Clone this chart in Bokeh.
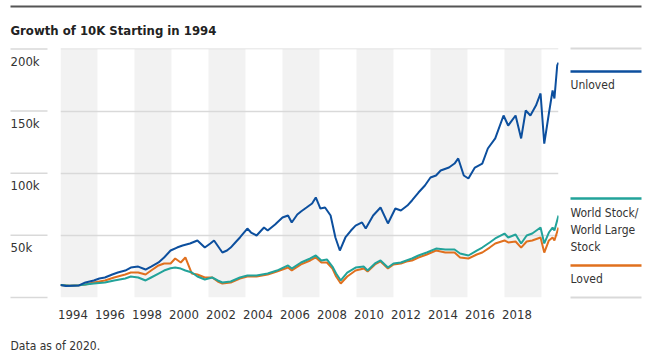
from bokeh.plotting import figure
from bokeh.models import FixedTicker, CustomJSTickFormatter, Range1d
from bokeh.core.properties import value
from bokeh.embed import file_html
from bokeh.resources import INLINE

# ---------------- data (values in thousands of dollars) ----------------
unloved_t = [1994.0, 1994.3, 1994.6, 1995.0, 1995.35, 1995.8, 1996.1, 1996.4, 1996.8, 1997.1,
             1997.5, 1997.8, 1998.2, 1998.6, 1998.9, 1999.3, 1999.6, 1999.95, 2000.3, 2000.6,
             2001.0, 2001.4, 2001.8, 2002.1, 2002.3, 2002.6, 2002.75, 2003.0, 2003.2, 2003.45,
             2003.7, 2004.1, 2004.3, 2004.6, 2005.0, 2005.2, 2005.6, 2006.0, 2006.3, 2006.5,
             2006.8, 2007.0, 2007.3, 2007.6, 2007.8, 2008.05, 2008.3, 2008.6, 2008.86, 2009.1,
             2009.4, 2009.7, 2009.95, 2010.3, 2010.5, 2010.9, 2011.3, 2011.7, 2012.1, 2012.4,
             2012.75, 2013.0, 2013.35, 2013.7, 2014.0, 2014.3, 2014.55, 2015.0, 2015.3, 2015.5,
             2015.8, 2016.05, 2016.4, 2016.8, 2017.1, 2017.5, 2017.95, 2018.2, 2018.6, 2018.9,
             2019.15, 2019.4, 2019.7, 2019.95, 2020.15, 2020.4, 2020.6, 2020.7, 2020.85, 2020.92]
unloved_v = [10.0, 9.2, 9.5, 9.7, 12.1, 13.7, 15.3, 16.1, 18.5, 20.1,
             21.7, 24.1, 24.9, 22.5, 24.9, 28.2, 32.2, 37.8, 40.2, 41.8,
             43.5, 45.9, 40.2, 43.5, 45.9, 39.4, 36.2, 37.8, 40.2, 44.3,
             48.3, 55.5, 52.3, 49.9, 56.3, 53.9, 58.8, 64.4, 66.0, 60.4,
             66.8, 69.2, 72.4, 75.7, 80.5, 71.6, 72.4, 66.0, 48.3, 37.8,
             48.3, 53.9, 57.9, 60.4, 55.5, 66.0, 72.4, 59.6, 71.6, 70.0,
             74.0, 78.1, 84.5, 90.1, 96.6, 98.2, 102.2, 104.6, 107.8, 111.9,
             98.2, 95.8, 104.6, 107.8, 119.9, 128.0, 146.5, 138.4, 146.5, 128.0,
             150.5, 146.5, 154.5, 164.2, 123.9, 148.1, 166.6, 160.2, 186.7, 189.1]

wl_t = [1994.0, 1994.5, 1995.0, 1995.35, 1995.8, 1996.4, 1996.9, 1997.5, 1997.8, 1998.2,
        1998.6, 1998.9, 1999.3, 1999.6, 1999.95, 2000.2, 2000.5, 2000.75, 2001.1, 2001.4,
        2001.8, 2002.2, 2002.5, 2002.75, 2003.2, 2003.7, 2004.1, 2004.6, 2005.2, 2005.7,
        2006.3, 2006.5, 2007.0, 2007.5, 2007.8, 2008.1, 2008.4, 2008.7, 2008.9, 2009.15,
        2009.5, 2009.95, 2010.4, 2010.6, 2011.0, 2011.3, 2011.7, 2012.0, 2012.4, 2012.7,
        2013.0, 2013.35, 2013.8, 2014.3, 2014.8, 2015.3, 2015.6, 2016.05, 2016.5, 2016.8,
        2017.2, 2017.5, 2018.0, 2018.2, 2018.6, 2018.9, 2019.2, 2019.5, 2019.95, 2020.15,
        2020.4, 2020.6, 2020.7, 2020.92]
world_v = [10.0, 9.4, 9.8, 10.5, 11.3, 12.1, 13.7, 15.3, 16.9, 16.1,
           13.7, 16.1, 19.3, 21.7, 23.5, 24.1, 23.3, 21.7, 20.1, 16.9,
           14.5, 16.1, 13.7, 12.1, 12.9, 16.1, 17.7, 17.7, 19.3, 21.7,
           25.8, 23.3, 28.2, 31.4, 33.8, 29.8, 30.6, 24.9, 19.3, 13.7,
           20.1, 24.1, 24.9, 21.7, 27.4, 29.8, 24.1, 27.4, 28.2, 29.8,
           31.4, 33.8, 36.2, 39.4, 38.6, 38.6, 35.4, 33.8, 37.8, 40.2,
           44.3, 47.5, 51.5, 48.3, 50.7, 43.5, 49.9, 51.5, 56.3, 43.5,
           52.3, 56.3, 53.9, 66.0]
loved_v = [10.0, 9.4, 9.8, 10.5, 12.1, 13.7, 16.1, 18.5, 20.1, 20.1,
           18.5, 21.7, 25.8, 27.4, 27.4, 31.4, 28.2, 32.2, 19.3, 18.5,
           16.1, 16.1, 12.9, 11.3, 12.1, 15.3, 16.9, 16.9, 18.5, 20.9,
           24.1, 21.7, 26.6, 29.8, 32.2, 28.2, 28.2, 23.3, 16.9, 11.3,
           16.9, 21.7, 23.3, 20.9, 26.6, 29.0, 23.3, 26.6, 27.4, 29.0,
           29.8, 32.2, 34.6, 37.8, 36.2, 36.2, 32.2, 31.4, 34.6, 36.2,
           40.2, 43.5, 45.9, 44.3, 45.1, 40.2, 45.1, 45.9, 48.3, 36.2,
           45.9, 48.3, 45.9, 56.3]

x_tick_years = [1994, 1996, 1998, 2000, 2002, 2004, 2006, 2008, 2010, 2012, 2014, 2016, 2018]
band_starts = [1994, 1998, 2002, 2006, 2010, 2014, 2018]
y_ticks = [0, 50, 100, 150, 200]
y_tick_labels = ["", "50k", "100k", "150k", "200k"]

series_names = ["Unloved", "World Stock/\nWorld Large\nStock", "Loved"]

title_text = "Growth of 10K Starting in 1994"
footer_text = "Data as of 2020."

# ---------------- style / layout ----------------
FONT = "DejaVu Sans Condensed, Roboto, sans-serif"
TXT = "#333333"
GRID = "#d9d9d9"
BAND = "#f2f2f2"
BLUE = "#0c4f9e"
TEAL = "#22a39a"
ORANGE = "#e0701e"

W, H = 650, 352
FL, FR, FT, FB = 60, 558, 48, 297          # frame edges in pixels
X0, X1 = 1994.0, 2020.92
Y0, Y1 = 0.0, 200.4


def dx(px):
    return X0 + (px - FL) * (X1 - X0) / (FR - FL)


def dy(py):
    return Y0 + (FB - py) * (Y1 - Y0) / (FB - FT)


p = figure(width=W, height=H, output_backend="svg", toolbar_location=None,
           x_range=Range1d(X0, X1), y_range=Range1d(Y0, Y1),
           min_border_left=FL, min_border_right=W - FR,
           min_border_top=FT, min_border_bottom=H - FB)
p.outline_line_color = None
p.background_fill_color = "white"
p.border_fill_color = "white"

# title
p.title.text = title_text
p.title.text_font = FONT
p.title.text_font_size = "13px"
p.title.text_font_style = "bold"
p.title.text_color = "#222222"
p.title.align = "left"
p.title.offset = 10 - FL
p.title.standoff = 21

# axes / grid
p.yaxis.visible = False
p.xgrid.grid_line_color = None
p.ygrid.ticker = FixedTicker(ticks=y_ticks)
p.ygrid.grid_line_color = GRID
p.ygrid.grid_line_width = 1.5

label_shift = 12.5 * (X1 - X0) / (FR - FL)
p.xaxis.ticker = FixedTicker(ticks=[yr + label_shift for yr in x_tick_years])
p.xaxis.formatter = CustomJSTickFormatter(code="return Math.floor(tick + 1e-6).toString()")
p.xaxis.axis_line_color = None
p.xaxis.major_tick_line_color = None
p.xaxis.minor_tick_line_color = None
p.xaxis.major_label_text_font = FONT
p.xaxis.major_label_text_font_size = "13px"
p.xaxis.major_label_text_color = TXT
p.xaxis.major_label_standoff = 6

# alternating bands
p.quad(left=band_starts, right=[b + 2 for b in band_starts], bottom=0, top=200,
       fill_color=BAND, line_color=None, level="image")

# series
p.line(wl_t, loved_v, line_color=ORANGE, line_width=2)
p.line(wl_t, world_v, line_color=TEAL, line_width=2)
p.line(unloved_t, unloved_v, line_color=BLUE, line_width=2)

# left gridline stubs and y labels
p.segment(x0=[dx(10)] * len(y_ticks), x1=[dx(47)] * len(y_ticks), y0=y_ticks, y1=y_ticks,
          line_color=GRID, line_width=1.5, level="overlay")
lab_off = dy(FB - 12.5) - dy(FB)
p.text(x=[dx(10)] * (len(y_ticks) - 1), y=[t - lab_off for t in y_ticks[1:]],
       text=y_tick_labels[1:], text_font=value(FONT), text_font_size="13px",
       text_color=TXT, text_align="left", text_baseline="middle", level="overlay")

# top rule
p.segment(x0=[dx(10)], x1=[dx(641)], y0=[dy(6)], y1=[dy(6)],
          line_color="#555555", line_width=2, level="overlay")

# legend on the right
lx0, lx1 = dx(570), dx(641)
p.segment(x0=[lx0, lx0], x1=[lx1, lx1], y0=[dy(FT), dy(FB)], y1=[dy(FT), dy(FB)],
          line_color=GRID, line_width=2, level="overlay")
p.segment(x0=[lx0] * 3, x1=[lx1] * 3, y0=[dy(71), dy(198), dy(265)], y1=[dy(71), dy(198), dy(265)],
          line_color=[BLUE, TEAL, ORANGE], line_width=2.5, level="overlay")
leg_lines = series_names[0].split("\n") + series_names[1].split("\n") + series_names[2].split("\n")
leg_py = [84, 212, 229, 246, 278]
p.text(x=[lx0] * len(leg_lines), y=[dy(v) for v in leg_py], text=leg_lines,
       text_font=value(FONT), text_font_size="12px", text_color=TXT,
       text_align="left", text_baseline="middle", level="overlay")

# footer
p.text(x=[dx(10)], y=[dy(345)], text=[footer_text], text_font=value(FONT),
       text_font_size="12px", text_color=TXT, text_align="left",
       text_baseline="middle", level="overlay")

open("out.html", "w").write(file_html(p, INLINE))
